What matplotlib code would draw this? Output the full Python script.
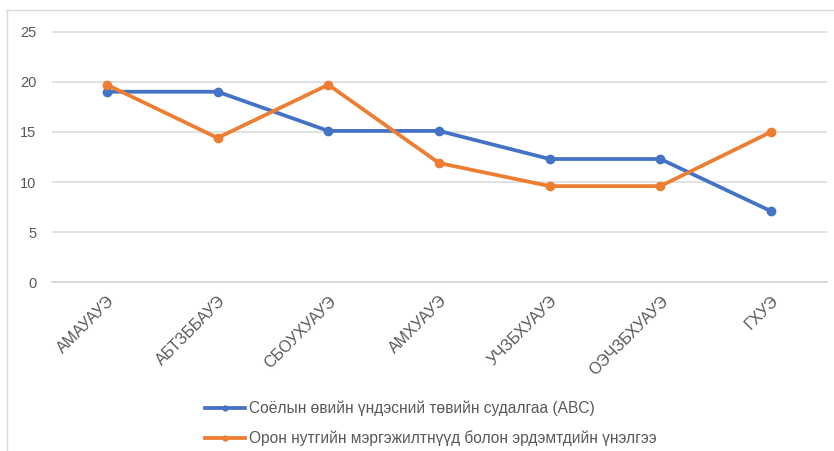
import matplotlib
matplotlib.use("Agg")
import matplotlib.pyplot as plt
import matplotlib.transforms as mtransforms
from matplotlib.lines import Line2D

plt.rcParams["font.family"] = ["Liberation Sans", "DejaVu Sans"]

# Series data
categories = ["АМАУАУЭ", "АБТЗББАУЭ", "СБОУХУАУЭ", "АМХУАУЭ",
              "УЧЗБХУАУЭ", "ОЭЧЗБХУАУЭ", "ГХУЭ"]
abc_survey = [19.0, 19.0, 15.1, 15.1, 12.3, 12.3, 7.1]
expert_rating = [19.7, 14.4, 19.7, 11.9, 9.6, 9.6, 15.0]
y_ticks = [0, 5, 10, 15, 20, 25]

label_abc = "Соёлын өвийн үндэсний төвийн судалгаа (ABC)"
label_expert = "Орон нутгийн мэргэжилтнүүд болон эрдэмтдийн үнэлгээ"

BLUE = "#4472C4"
ORANGE = "#ED7D31"
GRID = "#D9D9D9"
TEXT = "#595959"

W, H = 834, 451
fig = plt.figure(figsize=(W / 100, H / 100), dpi=100)

# plot area in pixel coordinates (a little padding so the 0 and 25 lines sit inside)
left, right, top, bottom = 51.5, 826.5, 30.5, 283.5
ax = fig.add_axes([left / W, 1 - bottom / H, (right - left) / W, (bottom - top) / H])

x = list(range(len(categories)))
ax.plot(x, abc_survey, color=BLUE, linewidth=2.7, marker="o", markersize=6,
        label=label_abc, zorder=3)
ax.plot(x, expert_rating, color=ORANGE, linewidth=2.7, marker="o", markersize=6,
        label=label_expert, zorder=3)

ax.set_xlim(-0.5, len(categories) - 0.5)
ax.set_ylim(-0.1, 25.1)
ax.set_yticks(y_ticks)
ax.set_xticks(x)
ax.set_xticklabels(categories, rotation=45, ha="right", rotation_mode="anchor",
                   fontsize=11.5, color=TEXT)
# nudge rotated category labels a little to the right
shift = mtransforms.ScaledTranslation(6 / 100, 0, fig.dpi_scale_trans)
for lbl in ax.get_xticklabels():
    lbl.set_transform(lbl.get_transform() + shift)
ax.tick_params(axis="y", labelsize=10.5, colors=TEXT, length=0, pad=11)
ax.tick_params(axis="x", length=0, pad=7)

ax.grid(axis="y", color=GRID, linewidth=1.1)
ax.set_axisbelow(True)
for s in ax.spines.values():
    s.set_visible(False)

# baseline at zero, drawn on the figure layer in data coordinates
fig.add_artist(Line2D([-0.5, len(categories) - 0.5], [0, 0], transform=ax.transData,
                      color=GRID, linewidth=1.3))

# outer chart frame (top and left edges)
fig.add_artist(Line2D([7 / W, 1], [1 - 10 / H, 1 - 10 / H], color=GRID, linewidth=1))
fig.add_artist(Line2D([7 / W, 7 / W], [1 - 10 / H, 0], color=GRID, linewidth=1))

handles = [Line2D([], [], color=BLUE, linewidth=2.7, marker="o", markersize=3.5),
           Line2D([], [], color=ORANGE, linewidth=2.7, marker="o", markersize=3.5)]
fig.legend(handles, [label_abc, label_expert], loc="upper left",
           bbox_to_anchor=(205 / W, 1 - 401 / H), frameon=False, fontsize=11.2,
           labelcolor=TEXT, handlelength=2.6, handletextpad=0.2, labelspacing=0.9,
           borderpad=0, borderaxespad=0)

fig.savefig("out.png", dpi=100)
